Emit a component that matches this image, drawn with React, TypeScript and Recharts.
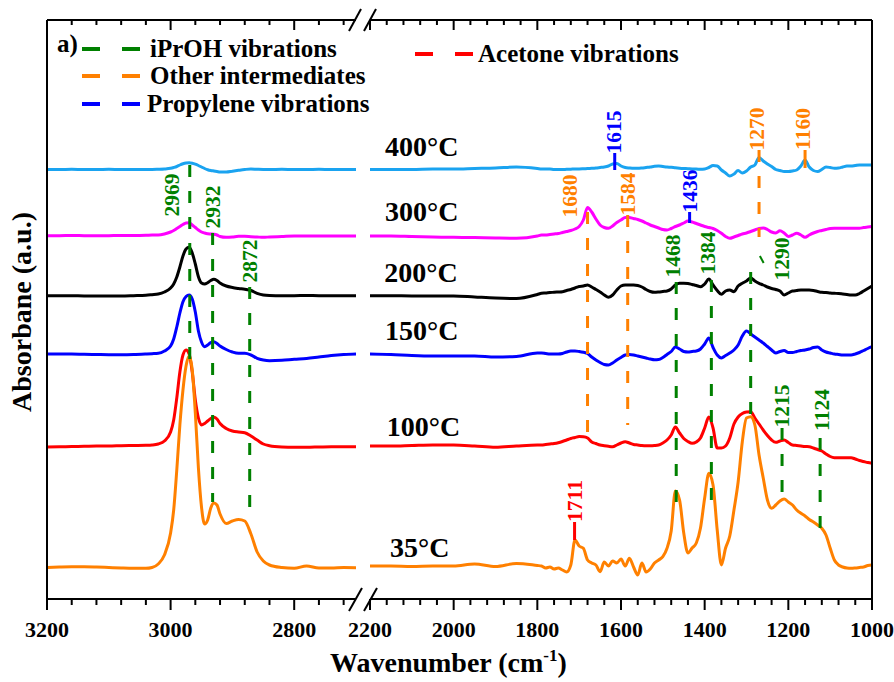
import { LineChart, Line, XAxis, YAxis, ReferenceLine, ReferenceDot } from 'recharts';

const FONT = "'Liberation Serif', 'Times New Roman', Times, serif";

const GREEN = '#008000';
const ORANGE = '#ff8000';
const BLUE = '#0000ff';
const RED = '#ff0000';

// series order: 400, 300, 200, 150, 100, 35 °C (stacked with offsets, a.u.)
const temperatures = ['400°C', '300°C', '200°C', '150°C', '100°C', '35°C'];
const seriesKeys = ['t400', 't300', 't200', 't150', 't100', 't35'];
const seriesColors = ['#1aa3f0', '#ff00ff', '#000000', '#0000ff', '#ff0000', '#ff8000'];

// C-H stretching region
const leftWavenumbers = [
  3200, 3180, 3160, 3140, 3120, 3100, 3080, 3060, 3040, 3030, 3020, 3010, 3000, 2995, 2990, 2985,
  2980, 2975, 2970, 2965, 2960, 2955, 2950, 2945, 2940, 2935, 2930, 2925, 2920, 2910, 2900, 2890,
  2880, 2870, 2860, 2850, 2840, 2820, 2800, 2780, 2760, 2740, 2720, 2700,
];
const left400 = [
  4.295, 4.295, 4.297, 4.295, 4.295, 4.297, 4.295, 4.295, 4.295, 4.295,
  4.297, 4.3, 4.307, 4.315, 4.325, 4.34, 4.352, 4.36, 4.363, 4.358,
  4.348, 4.335, 4.32, 4.305, 4.293, 4.285, 4.28, 4.275, 4.27, 4.27,
  4.278, 4.287, 4.295, 4.3, 4.297, 4.295, 4.295, 4.297, 4.295, 4.295,
  4.297, 4.295, 4.295, 4.295,
];
const left300 = [
  3.633, 3.633, 3.635, 3.633, 3.632, 3.633, 3.635, 3.635, 3.637, 3.64,
  3.64, 3.65, 3.67, 3.685, 3.705, 3.725, 3.745, 3.76, 3.763, 3.74,
  3.715, 3.69, 3.67, 3.66, 3.653, 3.65, 3.647, 3.64, 3.625, 3.617,
  3.62, 3.627, 3.627, 3.623, 3.62, 3.617, 3.62, 3.625, 3.63, 3.63,
  3.63, 3.63, 3.63, 3.63,
];
const left200 = [
  3.033, 3.033, 3.033, 3.03, 3.03, 3.03, 3.03, 3.033, 3.037, 3.043,
  3.05, 3.07, 3.11, 3.15, 3.22, 3.32, 3.43, 3.5, 3.517, 3.46,
  3.35, 3.223, 3.16, 3.15, 3.163, 3.185, 3.197, 3.185, 3.16, 3.13,
  3.115, 3.105, 3.097, 3.085, 3.057, 3.04, 3.035, 3.033, 3.033, 3.035,
  3.033, 3.033, 3.033, 3.033,
];
const left150 = [
  2.45, 2.45, 2.45, 2.447, 2.445, 2.443, 2.443, 2.445, 2.45, 2.453,
  2.457, 2.48, 2.53, 2.6, 2.72, 2.86, 2.973, 3.025, 3.04, 3.0,
  2.87, 2.68, 2.57, 2.523, 2.54, 2.565, 2.573, 2.555, 2.53, 2.495,
  2.47, 2.457, 2.457, 2.44, 2.407, 2.39, 2.383, 2.387, 2.397, 2.405,
  2.42, 2.435, 2.445, 2.45,
];
const left100 = [
  1.52, 1.522, 1.525, 1.527, 1.53, 1.53, 1.533, 1.535, 1.537, 1.54,
  1.55, 1.58, 1.67, 1.79, 2.01, 2.27, 2.44, 2.49, 2.45, 2.27,
  1.99, 1.81, 1.74, 1.755, 1.78, 1.805, 1.817, 1.8, 1.755, 1.705,
  1.68, 1.67, 1.663, 1.63, 1.59, 1.55, 1.533, 1.52, 1.517, 1.517,
  1.52, 1.523, 1.523, 1.523,
];
const left35 = [
  0.315, 0.32, 0.323, 0.323, 0.32, 0.315, 0.31, 0.307, 0.307, 0.315,
  0.35, 0.44, 0.66, 0.89, 1.29, 1.74, 2.09, 2.33, 2.43, 2.29,
  1.86, 1.31, 0.92, 0.75, 0.79, 0.91, 0.96, 0.94, 0.85, 0.755,
  0.78, 0.795, 0.78, 0.65, 0.47, 0.38, 0.34, 0.315, 0.307, 0.33,
  0.31, 0.31, 0.315, 0.313,
];

// fingerprint region
const rightWavenumbers = [
  2200, 2150, 2100, 2050, 2000, 1950, 1900, 1850, 1800,
  1790, 1780, 1770, 1760, 1750, 1740, 1730, 1720, 1710, 1700,
  1690, 1680, 1670, 1660, 1650, 1640, 1630, 1620, 1610, 1600,
  1590, 1580, 1570, 1560, 1550, 1540, 1530, 1520, 1510, 1500,
  1490, 1480, 1470, 1460, 1450, 1440, 1430, 1420, 1410, 1400,
  1390, 1380, 1370, 1360, 1350, 1340, 1330, 1320, 1310, 1300,
  1290, 1280, 1270, 1260, 1250, 1240, 1230, 1220, 1210, 1200,
  1190, 1180, 1170, 1160, 1150, 1140, 1130, 1120, 1110, 1100,
  1090, 1080, 1070, 1060, 1050, 1040, 1030, 1020, 1010, 1000,
];
const right400 = [
  4.295, 4.295, 4.295, 4.3, 4.3, 4.305, 4.31, 4.32, 4.305,
  4.3, 4.3, 4.3, 4.295, 4.295, 4.295, 4.297, 4.298, 4.3, 4.3,
  4.302, 4.305, 4.307, 4.31, 4.315, 4.32, 4.33, 4.35, 4.355, 4.33,
  4.315, 4.31, 4.307, 4.307, 4.31, 4.315, 4.32, 4.327, 4.33, 4.325,
  4.32, 4.317, 4.312, 4.308, 4.305, 4.303, 4.3, 4.3, 4.297, 4.3,
  4.315, 4.335, 4.33, 4.29, 4.26, 4.23, 4.25, 4.285, 4.26, 4.28,
  4.32, 4.34, 4.415, 4.38, 4.35, 4.325, 4.295, 4.285, 4.275, 4.275,
  4.28, 4.29, 4.33, 4.39, 4.32, 4.285, 4.275, 4.295, 4.32, 4.315,
  4.307, 4.31, 4.32, 4.33, 4.33, 4.335, 4.34, 4.34, 4.34, 4.34,
];
const right300 = [
  3.63, 3.63, 3.625, 3.62, 3.617, 3.615, 3.61, 3.607, 3.63,
  3.64, 3.64, 3.645, 3.65, 3.655, 3.665, 3.675, 3.685, 3.7, 3.725,
  3.79, 3.915, 3.87, 3.8, 3.74, 3.715, 3.707, 3.73, 3.765, 3.79,
  3.815, 3.815, 3.805, 3.795, 3.78, 3.76, 3.74, 3.725, 3.71, 3.695,
  3.69, 3.705, 3.725, 3.74, 3.76, 3.78, 3.77, 3.755, 3.74, 3.725,
  3.715, 3.705, 3.685, 3.657, 3.625, 3.607, 3.62, 3.635, 3.65, 3.66,
  3.675, 3.69, 3.705, 3.71, 3.695, 3.67, 3.66, 3.683, 3.66, 3.625,
  3.64, 3.657, 3.64, 3.617, 3.64, 3.66, 3.675, 3.685, 3.695, 3.705,
  3.707, 3.707, 3.707, 3.707, 3.707, 3.707, 3.707, 3.715, 3.72, 3.725,
];
const right200 = [
  3.033, 3.033, 3.03, 3.03, 3.03, 3.02, 3.01, 3.005, 3.045,
  3.057, 3.06, 3.065, 3.067, 3.07, 3.073, 3.085, 3.095, 3.11, 3.125,
  3.13, 3.14, 3.12, 3.095, 3.07, 3.04, 3.017, 3.04, 3.09, 3.13,
  3.14, 3.14, 3.14, 3.135, 3.12, 3.095, 3.075, 3.067, 3.07, 3.075,
  3.08, 3.1, 3.14, 3.157, 3.157, 3.155, 3.145, 3.135, 3.123, 3.15,
  3.2, 3.14, 3.085, 3.047, 3.08, 3.09, 3.073, 3.13, 3.157, 3.18,
  3.21, 3.18, 3.157, 3.14, 3.12, 3.105, 3.095, 3.08, 3.04, 3.06,
  3.08, 3.085, 3.09, 3.09, 3.09, 3.085, 3.075, 3.067, 3.065, 3.06,
  3.057, 3.055, 3.05, 3.045, 3.04, 3.04, 3.055, 3.08, 3.105, 3.13,
];
const right150 = [
  2.45, 2.445, 2.435, 2.43, 2.43, 2.43, 2.42, 2.425, 2.46,
  2.46, 2.455, 2.45, 2.45, 2.45, 2.455, 2.47, 2.48, 2.48, 2.475,
  2.467, 2.455, 2.42, 2.39, 2.365, 2.345, 2.34, 2.36, 2.39, 2.415,
  2.44, 2.445, 2.44, 2.43, 2.42, 2.41, 2.4, 2.393, 2.395, 2.415,
  2.445, 2.475, 2.52, 2.5, 2.475, 2.47, 2.475, 2.48, 2.5, 2.55,
  2.61, 2.515, 2.44, 2.41, 2.435, 2.46, 2.49, 2.54, 2.63, 2.68,
  2.65, 2.62, 2.59, 2.56, 2.525, 2.49, 2.46, 2.475, 2.485, 2.465,
  2.465, 2.475, 2.485, 2.49, 2.5, 2.515, 2.52, 2.49, 2.47, 2.46,
  2.45, 2.445, 2.44, 2.44, 2.44, 2.45, 2.465, 2.485, 2.505, 2.523,
];
const right100 = [
  1.53, 1.53, 1.535, 1.54, 1.54, 1.53, 1.517, 1.53, 1.54,
  1.54, 1.545, 1.55, 1.555, 1.563, 1.575, 1.59, 1.605, 1.615, 1.625,
  1.623, 1.61, 1.57, 1.555, 1.54, 1.533, 1.527, 1.523, 1.54, 1.56,
  1.573, 1.56, 1.545, 1.54, 1.535, 1.533, 1.533, 1.535, 1.54, 1.56,
  1.59, 1.64, 1.72, 1.66, 1.605, 1.575, 1.557, 1.57, 1.61, 1.71,
  1.82, 1.71, 1.51, 1.51, 1.53, 1.61, 1.75, 1.82, 1.855, 1.87,
  1.873, 1.81, 1.75, 1.69, 1.635, 1.59, 1.567, 1.58, 1.59, 1.565,
  1.54, 1.535, 1.53, 1.525, 1.523, 1.51, 1.495, 1.48, 1.45, 1.425,
  1.413, 1.413, 1.413, 1.413, 1.413, 1.4, 1.385, 1.375, 1.365, 1.357,
];
const right35 = [
  0.33, 0.33, 0.325, 0.33, 0.33, 0.35, 0.325, 0.355, 0.335,
  0.33, 0.31, 0.32, 0.3, 0.31, 0.29, 0.27, 0.34, 0.59, 0.53,
  0.507, 0.39, 0.36, 0.34, 0.273, 0.37, 0.33, 0.38, 0.36, 0.4,
  0.33, 0.407, 0.32, 0.24, 0.36, 0.27, 0.3, 0.36, 0.39, 0.423,
  0.507, 0.68, 1.08, 0.99, 0.66, 0.46, 0.51, 0.56, 0.71, 1.01,
  1.257, 1.14, 0.69, 0.34, 0.51, 0.63, 0.89, 1.17, 1.573, 1.81,
  1.823, 1.74, 1.44, 1.21, 0.99, 0.907, 0.94, 0.98, 1.0, 0.97,
  0.94, 0.89, 0.857, 0.83, 0.795, 0.77, 0.74, 0.707, 0.64, 0.51,
  0.39, 0.34, 0.32, 0.31, 0.307, 0.31, 0.315, 0.32, 0.335, 0.34,
];

const leftTicks = [3200, 3160, 3120, 3080, 3040, 3000, 2960, 2920, 2880, 2840, 2800, 2760, 2720];
const rightTicks = [
  2200, 2160, 2120, 2080, 2040, 2000, 1960, 1920, 1880, 1840, 1800, 1760, 1720, 1680, 1640, 1600,
  1560, 1520, 1480, 1440, 1400, 1360, 1320, 1280, 1240, 1200, 1160, 1120, 1080, 1040, 1000,
];

// assigned bands: wavenumber, vertical extent (a.u.), label anchor
type Band = { wn: number; hi: number; lo: number; color: string; dashed: boolean; tx: number; ty: number };

const leftBands: Band[] = [
  { wn: 2969, hi: 4.34, lo: 2.39, color: GREEN, dashed: true, tx: 2998, ty: 4.04 },
  { wn: 2932, hi: 3.66, lo: 0.97, color: GREEN, dashed: true, tx: 2931, ty: 3.92 },
  { wn: 2872, hi: 3.12, lo: 0.86, color: GREEN, dashed: true, tx: 2872, ty: 3.38 },
];

const rightBands: Band[] = [
  { wn: 1615, hi: 4.46, lo: 4.29, color: BLUE, dashed: false, tx: 1617, ty: 4.67 },
  { wn: 1270, hi: 4.49, lo: 3.62, color: ORANGE, dashed: true, tx: 1275, ty: 4.7 },
  { wn: 1160, hi: 4.49, lo: 4.31, color: ORANGE, dashed: false, tx: 1165, ty: 4.7 },
  { wn: 1680, hi: 3.87, lo: 1.66, color: ORANGE, dashed: true, tx: 1721, ty: 4.03 },
  { wn: 1584, hi: 3.84, lo: 1.74, color: ORANGE, dashed: true, tx: 1584, ty: 4.05 },
  { wn: 1436, hi: 3.87, lo: 3.76, color: BLUE, dashed: false, tx: 1436, ty: 4.08 },
  { wn: 1468, hi: 3.17, lo: 0.89, color: GREEN, dashed: true, tx: 1475, ty: 3.43 },
  { wn: 1384, hi: 3.19, lo: 0.97, color: GREEN, dashed: true, tx: 1391, ty: 3.46 },
  { wn: 1290, hi: 3.27, lo: 1.84, color: GREEN, dashed: true, tx: 1216, ty: 3.4 },
  { wn: 1215, hi: 1.71, lo: 1.01, color: GREEN, dashed: true, tx: 1215, ty: 1.93 },
  { wn: 1124, hi: 1.61, lo: 0.69, color: GREEN, dashed: true, tx: 1119, ty: 1.89 },
  { wn: 1711, hi: 0.77, lo: 0.59, color: RED, dashed: false, tx: 1711, ty: 0.98 },
];

// where each temperature name sits (wavenumber, a.u. of the text baseline)
const tempLabelWn = [2164, 2164, 2166, 2164, 2160, 2152];
const tempLabelA = [4.43, 3.783, 3.173, 2.59, 1.63, 0.417];

const Y_DOMAIN: [number, number] = [0, 5.79];

function buildRows(wns: number[], series: number[][]) {
  return wns.map((w, i) => {
    const row: Record<string, number> = { w };
    seriesKeys.forEach((k, j) => {
      row[k] = series[j][i];
    });
    return row;
  });
}

const leftRows = buildRows(leftWavenumbers, [left400, left300, left200, left150, left100, left35]);
const rightRows = buildRows(rightWavenumbers, [right400, right300, right200, right150, right100, right35]);

const BottomTick = (props: any) => {
  const { x, y, payload } = props;
  const major = payload.value % 200 === 0;
  return (
    <g>
      <line x1={x} x2={x} y1={y} y2={y + (major ? 11 : 6)} stroke="#000" strokeWidth={2} />
      {major && (
        <text x={x} y={y + 38} textAnchor="middle" fontFamily={FONT} fontWeight="bold" fontSize={22} fill="#000">
          {payload.value}
        </text>
      )}
    </g>
  );
};

// top ticks point into the plot
const TopTick = (props: any) => {
  const { x, y, payload } = props;
  const major = payload.value % 200 === 0;
  return <line x1={x} x2={x} y1={y} y2={y + (major ? 10 : 5)} stroke="#000" strokeWidth={2} />;
};

const bandLabel = (text: string, color: string) => (p: any) => (
  <text
    x={p.cx}
    y={p.cy}
    transform={`rotate(-90 ${p.cx} ${p.cy})`}
    textAnchor="middle"
    dominantBaseline="central"
    fill={color}
    fontFamily={FONT}
    fontWeight="bold"
    fontSize={21.5}
  >
    {text}
  </text>
);

const tempLabel = (text: string) => (p: any) => (
  <text x={p.cx} y={p.cy} fill="#000" fontFamily={FONT} fontWeight="bold" fontSize={28}>
    {text}
  </text>
);

function renderBands(bands: Band[]) {
  return bands.flatMap((b) => [
    <ReferenceLine
      key={`l${b.wn}`}
      xAxisId="b"
      yAxisId="a"
      segment={[{ x: b.wn, y: b.hi }, { x: b.wn, y: b.lo }]}
      stroke={b.color}
      strokeWidth={3}
      strokeDasharray={b.dashed ? '12 14' : undefined}
    />,
    <ReferenceDot
      key={`t${b.wn}`}
      xAxisId="b"
      yAxisId="a"
      x={b.tx}
      y={b.ty}
      r={1}
      shape={bandLabel(String(b.wn), b.color)}
    />,
  ]);
}

function renderLines() {
  return seriesKeys.map((k, i) => (
    <Line
      key={k}
      xAxisId="b"
      yAxisId="a"
      dataKey={k}
      type="monotone"
      stroke={seriesColors[i]}
      strokeWidth={3}
      dot={false}
      isAnimationActive={false}
    />
  ));
}

function axes(domain: [number, number], ticks: number[], side: 'left' | 'right') {
  return [
    <XAxis
      key="xb"
      xAxisId="b"
      dataKey="w"
      type="number"
      domain={domain}
      reversed
      allowDataOverflow
      ticks={ticks}
      interval={0}
      tick={BottomTick}
      tickLine={false}
      tickSize={0}
      tickMargin={0}
      height={30}
      axisLine={{ stroke: '#000', strokeWidth: 2 }}
    />,
    <XAxis
      key="xt"
      xAxisId="t"
      dataKey="w"
      orientation="top"
      type="number"
      domain={domain}
      reversed
      allowDataOverflow
      ticks={ticks}
      interval={0}
      tick={TopTick}
      tickLine={false}
      tickSize={0}
      tickMargin={0}
      height={1}
      axisLine={{ stroke: '#000', strokeWidth: 2 }}
    />,
    <YAxis
      key="y"
      yAxisId="a"
      orientation={side}
      type="number"
      domain={Y_DOMAIN}
      allowDataOverflow
      width={1}
      tick={false}
      tickLine={false}
      axisLine={{ stroke: '#000', strokeWidth: 2 }}
    />,
  ];
}

function Overlay() {
  const legendRow = (y: number, x0: number, color: string, text: string, tx: number) => (
    <g>
      <line x1={x0} x2={x0 + 18} y1={y} y2={y} stroke={color} strokeWidth={4} />
      <line x1={x0 + 40} x2={x0 + 58} y1={y} y2={y} stroke={color} strokeWidth={4} />
      <text x={tx} y={y + 8} fontFamily={FONT} fontWeight="bold" fontSize={25} fill="#000">
        {text}
      </text>
    </g>
  );
  return (
    <svg width={894} height={682} style={{ position: 'absolute', left: 0, top: 0, pointerEvents: 'none' }}>
      <text x={57} y={52} fontFamily={FONT} fontWeight="bold" fontSize={25} fill="#000">
        a)
      </text>
      {legendRow(49, 82, GREEN, 'iPrOH vibrations', 150)}
      {legendRow(76, 82, ORANGE, 'Other intermediates', 150)}
      {legendRow(104, 82, BLUE, 'Propylene vibrations', 147)}
      {legendRow(54, 415, RED, 'Acetone vibrations', 478)}
      {/* axis break marks */}
      <g stroke="#000" strokeWidth={2}>
        <line x1={349} y1={31} x2={361} y2={9} />
        <line x1={364} y1={31} x2={376} y2={9} />
        <line x1={349} y1={611} x2={362} y2={588} />
        <line x1={364} y1={611} x2={377} y2={588} />
      </g>
      <text
        x={21}
        y={312}
        transform="rotate(-90 21 312)"
        textAnchor="middle"
        dominantBaseline="central"
        fontFamily={FONT}
        fontWeight="bold"
        fontSize={28}
        fill="#000"
      >
        Absorbane (a.u.)
      </text>
      <text x={330} y={672} fontFamily={FONT} fontWeight="bold" fontSize={28} fill="#000">
        Wavenumber (cm
        <tspan dy={-11} fontSize={17}>
          -1
        </tspan>
        <tspan dy={11}>)</tspan>
      </text>
    </svg>
  );
}

export default function App() {
  return (
    <div style={{ position: 'absolute', left: 0, top: 0, width: 894, height: 682, background: '#fff' }}>
      <div style={{ position: 'absolute', left: 0, top: 0 }}>
        <LineChart width={360} height={682} data={leftRows} margin={{ top: 19, right: 4, bottom: 53, left: 46 }}>
          {axes([2700, 3200], leftTicks, 'left')}
          {renderLines()}
          {renderBands(leftBands)}
        </LineChart>
      </div>
      <div style={{ position: 'absolute', left: 330, top: 0 }}>
        <LineChart width={564} height={682} data={rightRows} margin={{ top: 19, right: 21, bottom: 53, left: 40 }}>
          {axes([1000, 2200], rightTicks, 'right')}
          {renderLines()}
          {renderBands(rightBands)}
          <ReferenceLine
            xAxisId="b"
            yAxisId="a"
            segment={[{ x: 1268, y: 3.43 }, { x: 1259, y: 3.36 }]}
            stroke={GREEN}
            strokeWidth={2}
          />
          {temperatures.map((t, i) => (
            <ReferenceDot
              key={t}
              xAxisId="b"
              yAxisId="a"
              x={tempLabelWn[i]}
              y={tempLabelA[i]}
              r={1}
              shape={tempLabel(t)}
            />
          ))}
        </LineChart>
      </div>
      <Overlay />
    </div>
  );
}
